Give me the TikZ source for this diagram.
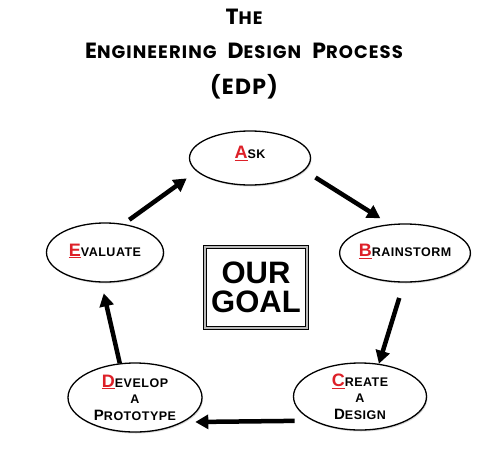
\documentclass[tikz,border=0pt]{standalone}
\usepackage{fontspec}
\setmainfont{Liberation Sans}
\newfontfamily\titlefont[LetterSpace=6]{Poppins}
\newfontfamily\stagefont[LetterSpace=4]{Liberation Sans}
\usetikzlibrary{arrows.meta, shapes.geometric, shadows}

\definecolor{edpred}{RGB}{221,32,40}

\newcommand{\redcap}[2]{{\color{edpred}\fontsize{18}{18}\selectfont\underline{#1}}{\fontsize{12.5}{16.5}\selectfont #2}}
\newcommand{\capword}[2]{{\fontsize{15}{16.5}\selectfont #1}{\fontsize{12.5}{16.5}\selectfont #2}}
\newcommand{\titleword}[2]{{\fontsize{22}{22}\selectfont #1}{\fontsize{18}{22}\selectfont #2}}

\tikzset{
  x=1pt, y=1pt,
  stage/.style={ellipse, draw, line width=1.3pt, fill=white, inner sep=0pt,
    align=center, font=\stagefont\bfseries\fontsize{12.5}{16.5}\selectfont,
    drop shadow={shadow xshift=1pt, shadow yshift=-1.5pt, opacity=0.3, fill=gray}},
  flow/.style={line width=4.5pt, -{Triangle[length=13pt, width=14pt]}},
  heading/.style={font=\titlefont\bfseries, anchor=base},
}

\begin{document}
\begin{tikzpicture}
\useasboundingbox (0,0) rectangle (500,-458);

\node[heading] (the) at (244,-24) {\titleword{T}{HE}};
\node[heading] (engdesign) at (244,-58) {\titleword{E}{NGINEERING}\hspace{11pt}\titleword{D}{ESIGN}\hspace{11pt}\titleword{P}{ROCESS}};
\node[heading] (edp) at (244,-94) {\fontsize{22}{22}\selectfont (EDP)};

\node[stage, minimum width=121pt, minimum height=54pt, text depth=11pt] (ask) at (250,-158) {\redcap{A}{SK}};
\node[stage, minimum width=120pt, minimum height=58pt, text depth=5pt] (brain) at (405,-253) {\redcap{B}{RAINSTORM}};
\node[stage, minimum width=133pt, minimum height=67pt] (create) at (360,-396.5) {\redcap{C}{REATE}\\ A\\ \capword{D}{ESIGN}};
\node[stage, minimum width=134pt, minimum height=69pt] (develop) at (135,-397.5) {\redcap{D}{EVELOP}\\ A\\ \capword{P}{ROTOTYPE}};
\node[stage, minimum width=117pt, minimum height=59pt, text depth=5pt] (eval) at (105,-252.5) {\redcap{E}{VALUATE}};

\node[draw, line width=1.2pt, double=gray!55, double distance=1.8pt,
      minimum width=102pt, minimum height=81pt, inner sep=0pt, align=center,
      font=\bfseries\fontsize{31}{29}\selectfont] (goal) at (256,-287.5) {OUR\\GOAL};

\draw[flow, shorten <=7pt, shorten >=12pt] (eval.57) -- (ask.194);
\draw[flow, shorten <=13pt, shorten >=11pt] (ask.-13) -- (brain.118);
\draw[flow, shorten <=16pt] (brain.-92) -- (create.60);
\draw[flow, shorten <=18pt, shorten >=12pt] (create.207) -- (develop.-27);
\draw[flow, shorten >=11pt] (develop.114) -- (eval.-97);
\end{tikzpicture}
\end{document}
